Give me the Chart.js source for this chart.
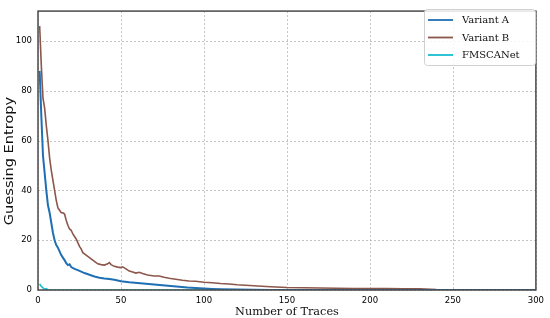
<!DOCTYPE html>
<html>
<head>
<meta charset="utf-8">
<script src="https://cdn.jsdelivr.net/npm/chart.js@4.4.0/dist/chart.umd.min.js"></script>
<style>
html,body{margin:0;padding:0;background:#fff;}
#wrap{width:550px;height:318px;position:relative;}
</style>
</head>
<body>
<div id="wrap"><canvas id="c" width="550" height="318"></canvas></div>
<script>
// ---- data ----
const seriesLabels = ["Variant A", "Variant B", "FMSCANet"];
const seriesColors = ["#1f6fb4", "#8c564b", "#17becf"];
const xTitle = "Number of Traces";
const yTitle = "Guessing Entropy";

const tracesA = [1,2,3,4,5,6,7,8,9,10,11,12,13,14,15,16,17,18,19,20,22,24,26,28,31,34,37,40,43,46,50,55,60,65,70,75,80,85,90,95,100,105,110,120,130,140,150,200,250,300];
const valuesA = [88,70,54,47,40,34,31,27,23,20,18,17,15.5,14,13,12,10.8,10,10.3,9.2,8.5,8,7.4,6.8,6.1,5.4,4.9,4.6,4.4,4.1,3.5,3.1,2.8,2.5,2.2,1.9,1.6,1.3,1.0,0.8,0.6,0.45,0.35,0.2,0.1,0.05,0,0,0,0];

const tracesB = [1,2,3,4,5,6,7,8,9,10,11,12,13,14,15,16,17,18,19,20,21,22,23,24,25,26,27,28,30,32,34,36,38,40,42,43,44,46,48,50,51,53,55,57,59,61,63,66,70,73,76,79,83,87,91,95,100,105,110,115,120,125,130,135,140,150,160,170,180,190,200,210,220,230,240,250,260,300];
const valuesB = [106,90,77,73,66,60,53,48,44,40,36,33,32,31,31,30.5,28,26,24.5,24,22.5,21.5,20.5,19,17.5,16.5,15,14.5,13.5,12.5,11.5,10.5,10.2,10,10.5,11,10.2,9.5,9.2,9,9.3,8.5,7.6,7.2,6.8,7.1,6.6,6,5.6,5.6,5.1,4.7,4.3,3.9,3.6,3.5,3.1,2.9,2.6,2.4,2.1,1.9,1.7,1.5,1.3,1.0,0.9,0.8,0.7,0.6,0.6,0.55,0.5,0.45,0.2,0.1,0,0];

const tracesC = [1,2,3,4,5,6,300];
const valuesC = [2.4,1.4,0.9,0.3,0.5,0,0];

const xTicks = [0,50,100,150,200,250,300];
const yTicks = [0,20,40,60,80,100];

const toPts = (xs, ys) => xs.map((x, i) => ({x: x, y: ys[i]}));

// dotted grid drawn through the chart's own scales
const gridPlugin = {
  id: 'dotGrid',
  beforeDatasetsDraw(chart) {
    const {ctx, chartArea: a, scales: {x, y}} = chart;
    ctx.save();
    ctx.strokeStyle = '#b5b5b5';
    ctx.lineWidth = 0.8;
    ctx.setLineDash([2, 2]);
    xTicks.forEach(v => {
      const px = Math.round(x.getPixelForValue(v)) + 0.5;
      ctx.beginPath(); ctx.moveTo(px, a.top); ctx.lineTo(px, a.bottom); ctx.stroke();
    });
    yTicks.forEach(v => {
      const py = Math.round(y.getPixelForValue(v)) + 0.5;
      ctx.beginPath(); ctx.moveTo(a.left, py); ctx.lineTo(a.right, py); ctx.stroke();
    });
    ctx.restore();
  }
};

const framePlugin = {
  id: 'frame',
  afterDatasetsDraw(chart) {
    const a = chart.chartArea;
    const ctx = chart.ctx;
    ctx.save();
    ctx.strokeStyle = '#4a4a4a';
    ctx.lineWidth = 1.5;
    ctx.strokeRect(a.left, a.top, a.right - a.left, a.bottom - a.top);
    ctx.restore();
  }
};

const titlePlugin = {
  id: 'titles',
  afterDraw(chart) {
    const {ctx, chartArea: a} = chart;
    ctx.save();
    ctx.fillStyle = '#111';
    ctx.textAlign = 'center';
    ctx.textBaseline = 'alphabetic';
    // x title
    ctx.font = '11.3px "DejaVu Serif"';
    ctx.fillText(xTitle, (a.left + a.right) / 2, 315);
    // y title
    ctx.font = '13px "DejaVu Sans"';
    const w = ctx.measureText(yTitle).width;
    ctx.save();
    ctx.translate(13, 161);
    ctx.rotate(-Math.PI / 2);
    ctx.scale(Math.min(1.12, 134 / w), 1);
    ctx.fillText(yTitle, 0, 0);
    ctx.restore();
    ctx.restore();
  }
};

const legendPlugin = {
  id: 'boxLegend',
  afterDraw(chart) {
    const ctx = chart.ctx;
    const x0 = 424, y0 = 9, w = 111, h = 56;
    ctx.save();
    ctx.fillStyle = 'rgba(255,255,255,0.85)';
    ctx.strokeStyle = '#d0d0d0';
    ctx.lineWidth = 1;
    ctx.beginPath();
    ctx.roundRect(x0 + 0.5, y0 + 0.5, w, h, 3);
    ctx.fill();
    ctx.stroke();
    ctx.font = '10px "DejaVu Serif"';
    ctx.textBaseline = 'middle';
    chart.data.datasets.forEach((ds, i) => {
      const yy = y0 + 11 + i * 17.5;
      ctx.strokeStyle = ds.borderColor;
      ctx.lineWidth = 1.8;
      ctx.beginPath();
      ctx.moveTo(x0 + 4, yy);
      ctx.lineTo(x0 + 29, yy);
      ctx.stroke();
      ctx.fillStyle = '#111';
      ctx.fillText(ds.label, x0 + 38, yy + 0.5);
    });
    ctx.restore();
  }
};

new Chart(document.getElementById('c'), {
  type: 'line',
  data: {
    datasets: [
      {label: seriesLabels[0], data: toPts(tracesA, valuesA), borderColor: seriesColors[0], borderWidth: 2},
      {label: seriesLabels[1], data: toPts(tracesB, valuesB), borderColor: seriesColors[1], borderWidth: 1.6},
      {label: seriesLabels[2], data: toPts(tracesC, valuesC), borderColor: seriesColors[2], borderWidth: 1.6}
    ]
  },
  options: {
    responsive: false,
    animation: false,
    elements: {point: {radius: 0}, line: {tension: 0, fill: false}},
    layout: {padding: {top: 4, right: 11, left: 0, bottom: 0}},
    plugins: {legend: {display: false}, tooltip: {enabled: false}},
    scales: {
      x: {
        type: 'linear', min: 0, max: 300,
        afterBuildTicks: s => { s.ticks = xTicks.map(v => ({value: v})); },
        afterFit: s => { s.height = 28; },
        grid: {display: false, drawTicks: false},
        border: {display: false},
        ticks: {color: '#000', font: {family: 'DejaVu Sans', size: 8.5}, padding: 6, maxRotation: 0},
        title: {display: false}
      },
      y: {
        type: 'linear', min: 0, max: 112,
        afterBuildTicks: s => { s.ticks = yTicks.map(v => ({value: v})); },
        afterFit: s => { s.width = 38; },
        grid: {display: false, drawTicks: false},
        border: {display: false},
        ticks: {color: '#000', font: {family: 'DejaVu Sans', size: 8.5}, padding: 6},
        title: {display: false}
      }
    }
  },
  plugins: [gridPlugin, framePlugin, titlePlugin, legendPlugin]
});
</script>
</body>
</html>
